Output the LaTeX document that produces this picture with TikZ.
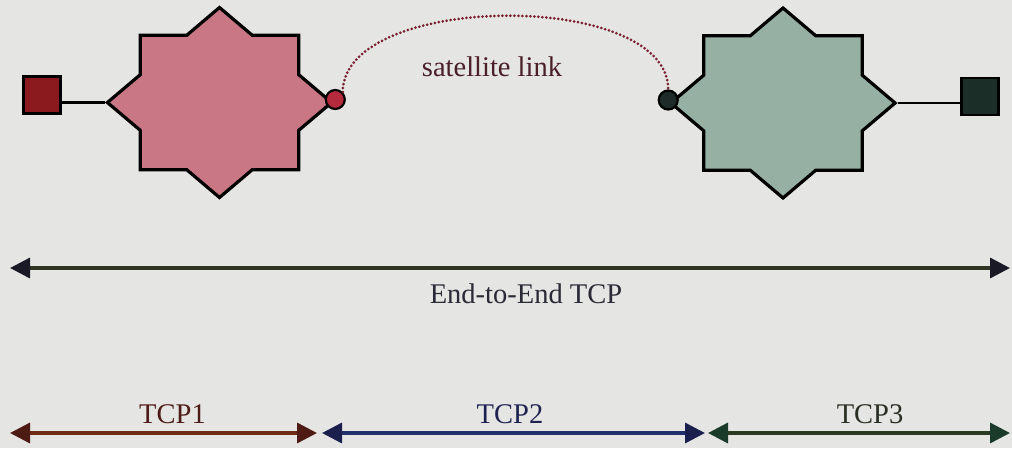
\documentclass[tikz,border=0pt]{standalone}
\usepackage{fontspec}
\setmainfont{Liberation Serif}
\usetikzlibrary{shapes.geometric,arrows.meta,calc}

\definecolor{paper}{HTML}{E5E5E3}
\definecolor{rosefill}{HTML}{C97785}
\definecolor{sagefill}{HTML}{96B0A4}
\definecolor{hostred}{HTML}{8B1A1E}
\definecolor{hostgreen}{HTML}{1C2E28}
\definecolor{portred}{HTML}{B52A3C}
\definecolor{portgreen}{HTML}{1F2B28}
\definecolor{linkred}{HTML}{7A2030}
\definecolor{labelred}{HTML}{4A1F28}
\definecolor{eteline}{HTML}{2E3322}
\definecolor{etehead}{HTML}{1A1A26}
\definecolor{etetext}{HTML}{2A2A36}
\definecolor{oneline}{HTML}{6E2A14}
\definecolor{onehead}{HTML}{4E1A14}
\definecolor{onetext}{HTML}{4E1C18}
\definecolor{twoline}{HTML}{23306E}
\definecolor{twohead}{HTML}{1A1F4E}
\definecolor{twotext}{HTML}{1E2250}
\definecolor{threeline}{HTML}{2C3A22}
\definecolor{threehead}{HTML}{1A3A2A}
\definecolor{threetext}{HTML}{282E22}

\begin{document}
\begin{tikzpicture}[x=1pt,y=-1pt,
  octa/.style={star, star points=8, star point ratio=1.307,
    minimum size=190pt, inner sep=0pt, xscale=1.18,
    draw=black, line width=3.2pt, line join=miter},
  hostbox/.style={rectangle, minimum size=37pt, inner sep=0pt,
    draw=black, line width=2.2pt},
  port/.style={circle, minimum size=19pt, inner sep=0pt,
    draw=black, line width=2.2pt},
  wire/.style={draw=black, line width=2.4pt},
  lbl/.style={font=\fontsize{28.5}{31}\selectfont, inner sep=0pt, anchor=base},
  span/.style={line width=3.4pt},
]
\useasboundingbox (0,0) rectangle (1012,448);
\fill[paper] (0,0) rectangle (1012,448);

% the two gateways
\node[octa, fill=rosefill] (L) at (219.5,102.5) {};
\node[octa, fill=sagefill] (R) at (783,103) {};

% end hosts
\node[hostbox, fill=hostred] (LS) at (42,95) {};
\node[hostbox, fill=hostgreen] (RS) at (980,96.5) {};
\draw[wire] (L.west) -- (L.west -| LS.east);
\draw[wire] (R.east) -- (R.east -| RS.west);

% satellite ports
\node[port, fill=portred] (LC) at ($(L.east)+(1,-3)$) {};
\node[port, fill=portgreen] (RC) at ($(R.west)+(0,-3)$) {};

% satellite link
\draw[linkred, line width=3pt, line cap=round, dash pattern=on 0pt off 4pt]
  (LC.north east) .. controls ($(LC.north east)+(0,-100)$) and ($(RC.north)+(0,-100)$) .. (RC.north);
\node[lbl, text=labelred] (sat) at (492,76) {satellite link};

% connection spans
\coordinate (e1) at (10,268);
\coordinate (e2) at (1010,268);
\draw[span, eteline, {Triangle[length=20pt,width=20pt,color=etehead]}-{Triangle[length=20pt,width=20pt,color=etehead]}] (e1) -- (e2);
\node[lbl, text=etetext] (ete) at (526,303) {End-to-End TCP};

\coordinate (a1) at (10,433);
\coordinate (a2) at (317,433);
\coordinate (b1) at (322,433);
\coordinate (b2) at (705,433);
\coordinate (c1) at (708,433);
\coordinate (c2) at (1010,433);
\draw[span, oneline, {Triangle[length=20pt,width=20pt,color=onehead]}-{Triangle[length=20pt,width=20pt,color=onehead]}] (a1) -- (a2);
\draw[span, twoline, {Triangle[length=20pt,width=20pt,color=twohead]}-{Triangle[length=20pt,width=20pt,color=twohead]}] (b1) -- (b2);
\draw[span, threeline, {Triangle[length=20pt,width=20pt,color=threehead]}-{Triangle[length=20pt,width=20pt,color=threehead]}] (c1) -- (c2);
\node[lbl, text=onetext] (t1) at (172.5,423) {TCP1};
\node[lbl, text=twotext] (t2) at (510,423) {TCP2};
\node[lbl, text=threetext] (t3) at (870,423) {TCP3};
\end{tikzpicture}
\end{document}
